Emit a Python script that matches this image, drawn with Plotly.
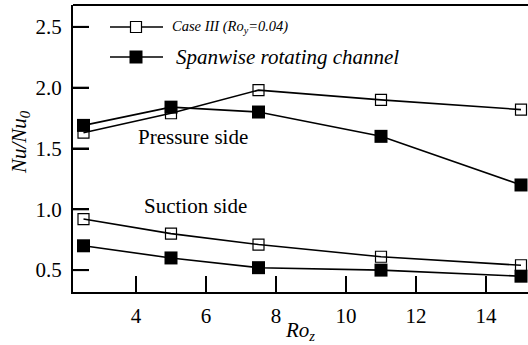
import plotly.graph_objects as go

# Rotation number Ro_z
ro_z = [2.5, 5, 7.5, 11, 15]

# Nu/Nu0, pressure side
case3_pressure = [1.63, 1.79, 1.98, 1.90, 1.82]
span_pressure = [1.69, 1.84, 1.80, 1.60, 1.20]

# Nu/Nu0, suction side
case3_suction = [0.92, 0.80, 0.71, 0.61, 0.54]
span_suction = [0.70, 0.60, 0.52, 0.50, 0.45]

x_ticks = [4, 6, 8, 10, 12, 14]
y_ticks = [0.5, 1.0, 1.5, 2.0, 2.5]
y_tick_text = ["0.5", "1.0", "1.5", "2.0", "2.5"]

FONT = "Liberation Serif"
W, H = 528, 345
ML, MT, MB, MR = 73, 5, 53, 0
PW, PH = W - ML - MR, H - MT - MB
TICK_LEN = 16

open_marker = dict(symbol="square-open", size=11, color="black", line=dict(width=1.2))
fill_marker = dict(symbol="square", size=13, color="black", line=dict(width=0))
line_style = dict(color="black", width=1.6)

fig = go.Figure()
for ys in (case3_pressure, case3_suction):
    fig.add_trace(go.Scatter(x=ro_z, y=ys, mode="lines+markers", line=line_style,
                             marker=open_marker, showlegend=False))
for ys in (span_pressure, span_suction):
    fig.add_trace(go.Scatter(x=ro_z, y=ys, mode="lines+markers", line=line_style,
                             marker=fill_marker, showlegend=False))


def px_x(p):
    return (p - ML) / PW


def px_y(p):
    return (H - MB - p) / PH


shapes = []
annotations = []

# Frame line along the top edge
shapes.append(dict(type="line", xref="paper", yref="paper", x0=0, x1=1, y0=1, y1=1,
                   layer="above", line=dict(color="black", width=2)))

# Inward tick marks along the bottom and left axes
for t in x_ticks:
    shapes.append(dict(type="line", xref="x", yref="paper", x0=t, x1=t,
                       y0=0, y1=TICK_LEN / PH, layer="above",
                       line=dict(color="black", width=2)))
for t in y_ticks:
    shapes.append(dict(type="line", xref="paper", yref="y", x0=0, x1=TICK_LEN / PW,
                       y0=t, y1=t, layer="above",
                       line=dict(color="black", width=2)))

# Hand-drawn legend: sample line, sample marker, label
legend_rows = [
    (27, False, "<i>Case III (Ro<sub>y</sub>=0.04)</i>", 14.5, 170),
    (57, True, "<i>Spanwise rotating channel</i>", 21, 174),
]
for py, filled, label, fsize, tx in legend_rows:
    shapes.append(dict(type="line", xref="paper", yref="paper",
                       x0=px_x(110), x1=px_x(163), y0=px_y(py), y1=px_y(py),
                       line=dict(color="black", width=1.6)))
    half = 6.5 if filled else 5.5
    shapes.append(dict(type="rect", xref="paper", yref="paper",
                       x0=px_x(136 - half), x1=px_x(136 + half),
                       y0=px_y(py + half), y1=px_y(py - half),
                       fillcolor="black" if filled else "white",
                       line=dict(color="black", width=0 if filled else 1.2)))
    annotations.append(dict(xref="paper", yref="paper", x=px_x(tx), y=px_y(py),
                            xanchor="left", yanchor="middle", showarrow=False,
                            text=label, font=dict(family=FONT, size=fsize, color="black")))

annotations.append(dict(xref="paper", yref="paper", x=px_x(193), y=px_y(137),
                        xanchor="center", yanchor="middle", showarrow=False,
                        text="Pressure side", font=dict(family=FONT, size=21, color="black")))
annotations.append(dict(xref="paper", yref="paper", x=px_x(195), y=px_y(206),
                        xanchor="center", yanchor="middle", showarrow=False,
                        text="Suction side", font=dict(family=FONT, size=21, color="black")))

# Axis titles
annotations.append(dict(xref="paper", yref="paper", x=px_x(300), y=px_y(331),
                        xanchor="center", yanchor="middle", showarrow=False,
                        text="<i>Ro<sub>z</sub></i>",
                        font=dict(family=FONT, size=21, color="black")))
annotations.append(dict(xref="paper", yref="paper", x=px_x(20), y=px_y(142),
                        xanchor="center", yanchor="middle", showarrow=False,
                        textangle=-90, text="<i>Nu/Nu<sub>0</sub></i>",
                        font=dict(family=FONT, size=21, color="black")))

fig.update_layout(
    width=W, height=H,
    margin=dict(l=ML, r=MR, t=MT, b=MB),
    plot_bgcolor="white",
    shapes=shapes, annotations=annotations,
    xaxis=dict(range=[2.2, 15.2], tickvals=x_ticks,
               ticks="inside", ticklen=TICK_LEN, tickwidth=2, tickcolor="black",
               showline=True, linewidth=2, linecolor="black",
               gridcolor="white", zerolinecolor="white",
               tickfont=dict(family=FONT, size=21, color="black")),
    yaxis=dict(range=[0.32, 2.68], tickvals=y_ticks, ticktext=y_tick_text,
               ticks="inside", ticklen=TICK_LEN, tickwidth=2, tickcolor="black",
               showline=True, linewidth=2, linecolor="black",
               gridcolor="white", zerolinecolor="white",
               tickfont=dict(family=FONT, size=21, color="black")),
)

# Extra gap between tick labels and axes
try:
    fig.update_xaxes(ticklabelstandoff=4)
    fig.update_yaxes(ticklabelstandoff=5)
except ValueError:
    pass

fig.write_html("out.html")
